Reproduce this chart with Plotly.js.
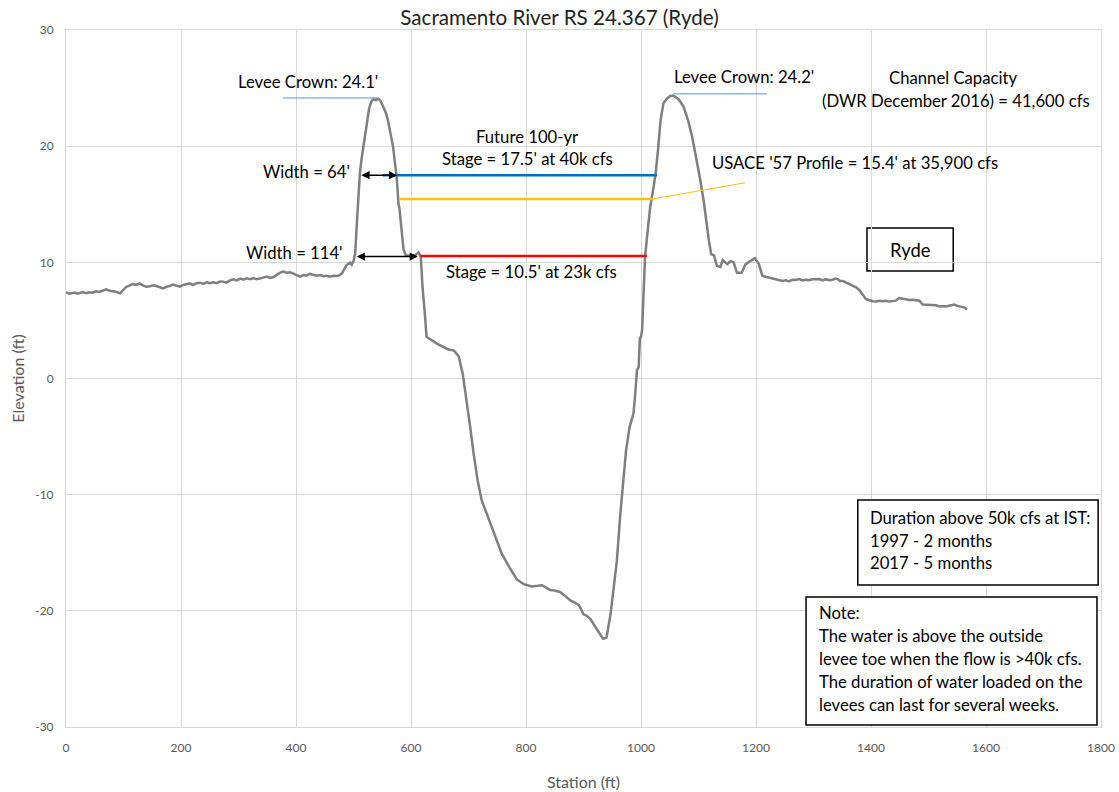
<!DOCTYPE html>
<html>
<head>
<meta charset="utf-8">
<script src="https://cdn.plot.ly/plotly-3.0.1.min.js"></script>
<style>html,body{margin:0;padding:0;background:#fff;}#chart{width:1119px;height:792px;}</style>
</head>
<body>
<div id="chart"></div>
<script>
// Ground profile (station ft, elevation ft)
const station = [0,5,9,15,20,29,35,40,46,52,58,64,70,76,82,87,94,100,105,110,116,122,128,134,140,146,152,157,163,169,175,180,186,192,198,204,210,215,221,227,233,239,245,250,256,262,268,273,279,285,291,297,303,309,314,320,326,331,337,343,349,355,360,366,372,378,384,390,395,401,407,413,418,424,430,436,442,448,453,459,465,471,476,480,485,488,494,497,500,503,506,508,511,514,517,520,523,527,531,535,539,543,547,552,556,560,565,569,572,575,577,578,580,582,584,587,591,600,607,613,617,620,624,627,645,665,675,683,690,697,703,709,716,723,732,744,758,773,784,796,810,820,828,835,842,850,860,870,877,885,892,900,905,912,918,923,930,934,940,947,952,958,964,970,974,980,987,990,993,996,998,1000,1002,1004,1007,1011,1016,1022,1026,1030,1034,1039,1045,1050,1056,1061,1066,1074,1082,1089,1097,1103,1109,1113,1118,1122,1127,1132,1138,1142,1146,1150,1156,1161,1167,1175,1182,1190,1198,1205,1211,1217,1222,1228,1234,1240,1246,1252,1257,1263,1269,1275,1281,1287,1292,1298,1304,1310,1316,1321,1327,1333,1338,1342,1346,1351,1357,1362,1368,1374,1380,1385,1391,1397,1403,1409,1415,1420,1426,1432,1438,1443,1449,1455,1461,1467,1473,1478,1484,1490,1496,1502,1507,1513,1519,1525,1530,1536,1541,1545,1550,1555,1559,1563,1567];
const elevation = [7.45,7.3,7.33,7.4,7.3,7.45,7.35,7.42,7.38,7.5,7.45,7.6,7.68,7.55,7.5,7.47,7.33,7.6,7.9,8.0,8.13,8.05,8.19,8.0,7.9,7.95,8.02,7.96,7.85,7.76,7.9,7.95,8.08,8.0,7.9,8.05,8.1,8.19,8.05,8.2,8.25,8.15,8.3,8.2,8.28,8.2,8.35,8.34,8.25,8.45,8.54,8.45,8.6,8.5,8.62,8.55,8.65,8.54,8.6,8.7,8.77,8.65,8.71,8.9,9.1,9.2,9.1,9.15,9.05,8.95,8.77,8.9,8.85,9.0,8.95,8.85,8.9,8.8,8.85,8.77,8.85,8.82,8.9,9.05,9.5,9.77,9.97,9.8,10.1,10.8,13.5,15.5,17.6,18.9,19.95,21.0,22.2,23.2,23.85,24.05,23.95,24.1,23.9,23.4,22.9,22.2,21.0,19.9,18.6,17.4,16.0,15.1,14.6,13.6,12.4,11.1,10.6,10.55,10.6,10.85,10.5,7.9,5.6,3.6,3.0,2.5,2.4,1.9,0.4,-1.9,-4.2,-6.5,-8.8,-10.5,-11.7,-13.4,-15.1,-16.4,-17.3,-17.7,-17.9,-17.85,-17.8,-18.0,-18.2,-18.25,-18.4,-18.8,-19.1,-19.3,-19.5,-20.3,-20.4,-20.7,-21.2,-21.6,-22.1,-22.4,-22.3,-20.3,-18.3,-15.7,-11.7,-8.2,-6.2,-4.2,-3.0,-1.3,0.7,1.0,3.45,3.6,4.2,6.8,10.4,12.4,14.8,16.5,17.9,19.9,22.2,23.7,24.1,24.3,24.35,24.2,24.0,23.4,22.2,20.8,18.8,17.1,15.3,13.6,11.9,10.7,10.6,9.7,9.6,10.2,10.0,9.85,10.1,10.0,9.1,9.1,9.85,10.1,10.35,9.85,8.85,8.76,8.7,8.65,8.55,8.5,8.4,8.45,8.36,8.5,8.48,8.56,8.45,8.5,8.47,8.55,8.57,8.56,8.45,8.55,8.47,8.5,8.6,8.56,8.4,8.4,8.25,8.15,8.0,7.85,7.6,7.2,6.84,6.74,6.65,6.63,6.7,6.65,6.7,6.62,6.7,6.7,6.93,6.85,6.8,6.75,6.78,6.72,6.7,6.36,6.35,6.3,6.27,6.3,6.2,6.25,6.2,6.25,6.3,6.36,6.25,6.2,6.2,6.1,5.93];

// Water surface lines
const future100X = [551, 1028];   const future100Y = [17.5, 17.5];
const usace57X = [580, 1020];     const usace57Y = [15.45, 15.45];
const usaceLeaderX = [1020, 1181]; const usaceLeaderY = [15.45, 16.85];
const stage23kX = [616, 1010];    const stage23kY = [10.55, 10.55];
// Levee crown leader lines
const crownLeftX = [377, 541];    const crownLeftY = [24.15, 24.15];
const crownRightX = [1056, 1219]; const crownRightY = [24.5, 24.5];
// Width arrows
const width64 = {x0: 511, x1: 576, y: 17.5};
const width114 = {x0: 503, x1: 612, y: 10.5};

const xTicks = [0,200,400,600,800,1000,1200,1400,1600,1800];
const yTicks = [-30,-20,-10,0,10,20,30];

const durationLines = ["Duration above 50k cfs at IST:", "1997 - 2 months", "2017 - 5 months"];
const durationY = [-12.0, -13.95, -15.9];
const noteLines = ["Note:", "The water is above the outside", "levee toe when the flow is >40k cfs.", "The duration of water loaded on the", "levees can last for several weeks."];
const noteY = [-20.2, -22.18, -24.16, -26.14, -28.12];

const traces = [
  {x: station, y: elevation, mode: 'lines', line: {color: '#7f7f7f', width: 2.5}, hoverinfo: 'x+y'},
  {x: future100X, y: future100Y, mode: 'lines', line: {color: '#0070c0', width: 2.5}},
  {x: usace57X, y: usace57Y, mode: 'lines', line: {color: '#ffc000', width: 2.5}},
  {x: usaceLeaderX, y: usaceLeaderY, mode: 'lines', line: {color: '#ffc000', width: 1}},
  {x: stage23kX, y: stage23kY, mode: 'lines', line: {color: '#ff0000', width: 2.5}},
  {x: crownLeftX, y: crownLeftY, mode: 'lines', line: {color: '#5b8fd9', width: 1}},
  {x: crownRightX, y: crownRightY, mode: 'lines', line: {color: '#5b8fd9', width: 1}}
];

const F = 16.7;
const ann = [];
function txt(text, x, y, xanchor, size) {
  ann.push({text: text, x: x, y: y, xref: 'x', yref: 'y', xanchor: xanchor || 'center', yanchor: 'middle', showarrow: false, font: {size: size || F, color: '#000'}});
}
txt("Levee Crown: 24.1'", 421, 25.52);
txt("Levee Crown: 24.2'", 1179, 25.95);
txt("Channel Capacity", 1543, 25.87);
txt("(DWR December 2016) = 41,600 cfs", 1548, 23.89);
txt("Future 100-yr", 802, 20.79);
txt("Stage = 17.5' at 40k cfs", 803, 18.9);
txt("USACE '57 Profile = 15.4' at 35,900 cfs", 1120, 18.55, 'left');
txt("Width = 64'", 497, 17.78, 'right');
txt("Width = 114'", 485, 10.8, 'right');
txt("Stage = 10.5' at 23k cfs", 810, 9.17);
txt("Ryde", 1468, 11.06, 'center', 18.4);
durationLines.forEach((t, i) => txt(t, 1395, durationY[i], 'left'));
noteLines.forEach((t, i) => txt(t, 1306, noteY[i], 'left'));

[width64, width114].forEach(w => {
  ann.push({x: w.x1, y: w.y, ax: w.x0, ay: w.y, xref: 'x', yref: 'y', axref: 'x', ayref: 'y',
    text: '', showarrow: true, arrowside: 'end+start', arrowhead: 2, arrowsize: 1.1, arrowwidth: 1.5,
    arrowcolor: '#000', standoff: 0, startstandoff: 0});
});

const shapes = [
  {type: 'rect', xref: 'x', yref: 'y', x0: 1393, x1: 1543, y0: 9.25, y1: 12.96, line: {color: '#000', width: 1.5}, fillcolor: '#fff', layer: 'below'},
  {type: 'rect', xref: 'x', yref: 'y', x0: 1377, x1: 1795, y0: -17.78, y1: -10.46, line: {color: '#000', width: 1.5}, fillcolor: '#fff', layer: 'above'},
  {type: 'rect', xref: 'x', yref: 'y', x0: 1287, x1: 1793, y0: -29.83, y1: -18.81, line: {color: '#000', width: 1.5}, fillcolor: '#fff', layer: 'above'}
];

const layout = {
  width: 1119, height: 792,
  margin: {l: 66, r: 18, t: 30, b: 65},
  paper_bgcolor: '#fff', plot_bgcolor: '#fff',
  showlegend: false,
  font: {family: 'Lato, "Open Sans", sans-serif', color: '#000'},
  title: {text: 'Sacramento River RS 24.367 (Ryde)', font: {size: 20.6, color: '#222'}, x: 0.5, xanchor: 'center', y: 0.977, yanchor: 'middle'},
  xaxis: {
    range: [0, 1800], tickvals: xTicks, ticktext: xTicks.map(String),
    showgrid: true, gridcolor: '#d9d9d9', gridwidth: 1, zeroline: false,
    showline: true, linecolor: '#d9d9d9', mirror: true,
    ticks: 'outside', ticklen: 10, tickcolor: 'rgba(0,0,0,0)',
    tickfont: {size: 12, color: '#595959'},
    title: {text: 'Station (ft)', font: {size: 16, color: '#595959'}, standoff: 22}
  },
  yaxis: {
    range: [-30, 30], tickvals: yTicks, ticktext: yTicks.map(String),
    showgrid: true, gridcolor: '#d9d9d9', gridwidth: 1, zeroline: false,
    showline: true, linecolor: '#d9d9d9', mirror: true,
    ticks: 'outside', ticklen: 9, tickcolor: 'rgba(0,0,0,0)',
    tickfont: {size: 12, color: '#595959'},
    title: {text: 'Elevation (ft)', font: {size: 16, color: '#595959'}, standoff: 6}
  },
  annotations: ann,
  shapes: shapes
};

Plotly.newPlot('chart', traces, layout, {displayModeBar: false, staticPlot: true});
</script>
</body>
</html>
